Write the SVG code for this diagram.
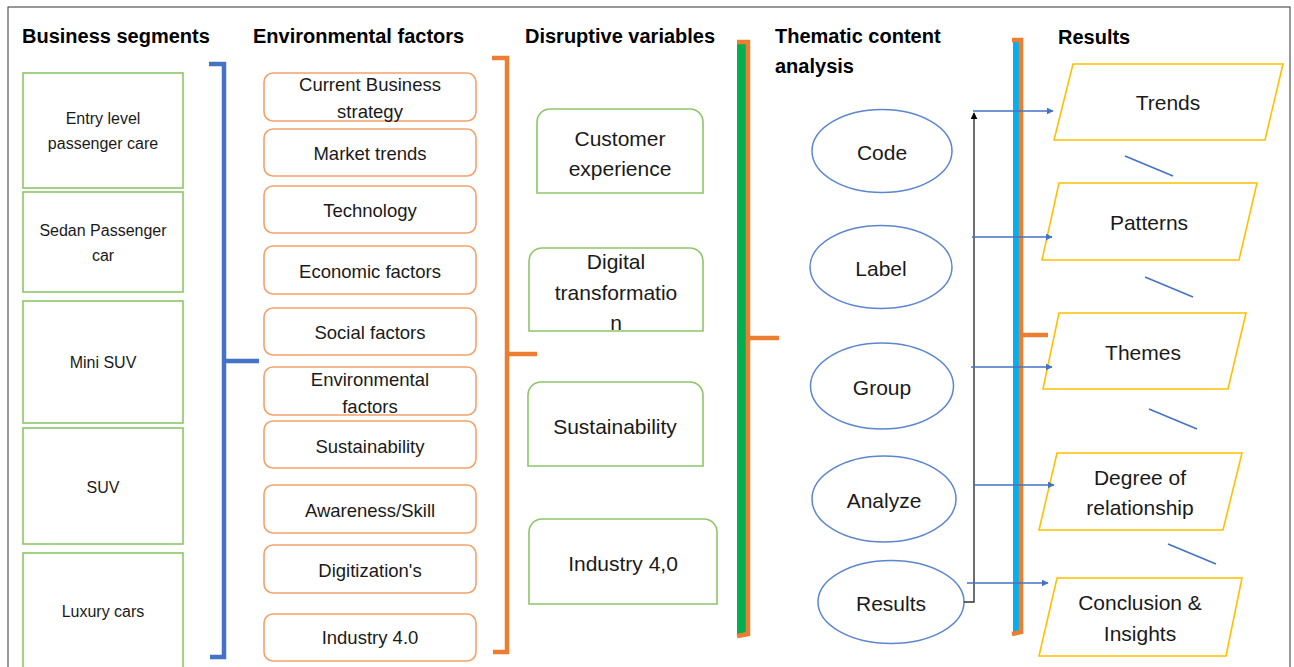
<svg xmlns="http://www.w3.org/2000/svg" width="1294" height="667" viewBox="0 0 1294 667">
<defs>
<style>
text{font-family:"Liberation Sans",Arial,sans-serif;fill:#1a1a1a;text-anchor:middle;dominant-baseline:central}
.hd{font-weight:bold;font-size:20px;text-anchor:start;fill:#000}
.seg rect{fill:#fff;stroke:#8cc668;stroke-width:1.6}
.seg text{font-size:16px}
.env rect{fill:#fff;stroke:#f4a26a;stroke-width:1.6}
.env text{font-size:18.5px}
.dis path{fill:#fff;stroke:#8cc668;stroke-width:1.6}
.dis text{font-size:21px}
.tca ellipse{fill:#fff;stroke:#5b86d0;stroke-width:1.5}
.tca text{font-size:21px}
.res polygon{fill:#fff;stroke:#ffc000;stroke-width:1.6}
.res text{font-size:21px}
.brb{fill:none;stroke:#4472c4;stroke-width:4.5}
.bro{fill:none;stroke:#ed7d31;stroke-width:4.5}
.ba{stroke:#4472c4;stroke-width:1.4;fill:none;marker-end:url(#ab)}
.dl{stroke:#4472c4;stroke-width:1.6}
</style>
<marker id="ab" viewBox="0 0 10 10" refX="9" refY="5" markerWidth="7" markerHeight="7" markerUnits="userSpaceOnUse" orient="auto"><path d="M0,0 L10,5 L0,10 z" fill="#4472c4"/></marker>
<marker id="ak" viewBox="0 0 10 10" refX="9" refY="5" markerWidth="7" markerHeight="7" markerUnits="userSpaceOnUse" orient="auto"><path d="M0,0 L10,5 L0,10 z" fill="#000"/></marker>
</defs>
<rect x="0" y="0" width="1294" height="667" fill="#fff"/>
<rect x="8" y="7" width="1282" height="700" fill="none" stroke="#333" stroke-width="1"/>

<g id="headers">
<text class="hd" x="22" y="36">Business segments</text>
<text class="hd" x="253" y="36">Environmental factors</text>
<text class="hd" x="525" y="36">Disruptive variables</text>
<text class="hd" x="775" y="36">Thematic content</text>
<text class="hd" x="775" y="66">analysis</text>
<text class="hd" x="1058" y="37">Results</text>
</g>

<g id="business-segments" class="seg">
<g id="seg-entry"><rect x="23" y="73" width="160" height="115"/><text x="103" y="118">Entry level</text><text x="103" y="143">passenger care</text></g>
<g id="seg-sedan"><rect x="23" y="192" width="160" height="100"/><text x="103" y="230">Sedan Passenger</text><text x="103" y="255">car</text></g>
<g id="seg-mini"><rect x="23" y="301" width="160" height="122"/><text x="103" y="362">Mini SUV</text></g>
<g id="seg-suv"><rect x="23" y="428" width="160" height="116"/><text x="103" y="487">SUV</text></g>
<g id="seg-luxury"><rect x="23" y="553" width="160" height="120"/><text x="103" y="611">Luxury cars</text></g>
</g>

<g id="environmental-factors" class="env">
<g id="env-strategy"><rect x="264" y="73" width="212" height="48" rx="9"/><text x="370" y="84">Current Business</text><text x="370" y="111">strategy</text></g>
<g id="env-market"><rect x="264" y="129" width="212" height="47" rx="9"/><text x="370" y="153">Market trends</text></g>
<g id="env-tech"><rect x="264" y="186" width="212" height="47" rx="9"/><text x="370" y="210">Technology</text></g>
<g id="env-economic"><rect x="264" y="246" width="212" height="48" rx="9"/><text x="370" y="271">Economic factors</text></g>
<g id="env-social"><rect x="264" y="308" width="212" height="47" rx="9"/><text x="370" y="332">Social factors</text></g>
<g id="env-environmental"><rect x="264" y="367" width="212" height="48" rx="9"/><text x="370" y="379">Environmental</text><text x="370" y="406">factors</text></g>
<g id="env-sustainability"><rect x="264" y="421" width="212" height="47" rx="9"/><text x="370" y="446">Sustainability</text></g>
<g id="env-awareness"><rect x="264" y="485" width="212" height="48" rx="9"/><text x="370" y="510">Awareness/Skill</text></g>
<g id="env-digitization"><rect x="264" y="545" width="212" height="48" rx="9"/><text x="370" y="570">Digitization's</text></g>
<g id="env-industry"><rect x="264" y="614" width="212" height="47" rx="9"/><text x="370" y="637">Industry 4.0</text></g>
</g>

<g id="disruptive-variables" class="dis">
<g id="dis-customer"><path d="M537,193 V122 A13,13 0 0 1 550,109 H690 A13,13 0 0 1 703,122 V193 Z"/><text x="620" y="138">Customer</text><text x="620" y="168">experience</text></g>
<g id="dis-digital"><path d="M529,331 V261 A13,13 0 0 1 542,248 H690 A13,13 0 0 1 703,261 V331 Z"/><text x="616" y="261">Digital</text><text x="616" y="292">transformatio</text><text x="616" y="322">n</text></g>
<g id="dis-sustainability"><path d="M528,466 V395 A13,13 0 0 1 541,382 H690 A13,13 0 0 1 703,395 V466 Z"/><text x="615" y="426">Sustainability</text></g>
<g id="dis-industry"><path d="M529,604 V532 A13,13 0 0 1 542,519 H704 A13,13 0 0 1 717,532 V604 Z"/><text x="623" y="563">Industry 4,0</text></g>
</g>

<g id="thematic-analysis" class="tca">
<g id="tca-code"><ellipse cx="882" cy="151" rx="70" ry="41.5"/><text x="882" y="152">Code</text></g>
<g id="tca-label"><ellipse cx="881" cy="267" rx="71" ry="41.5"/><text x="881" y="268">Label</text></g>
<g id="tca-group"><ellipse cx="882" cy="386" rx="71.5" ry="43"/><text x="882" y="387">Group</text></g>
<g id="tca-analyze"><ellipse cx="884" cy="499" rx="72" ry="43"/><text x="884" y="500">Analyze</text></g>
<g id="tca-results"><ellipse cx="891" cy="602" rx="73" ry="41.5"/><text x="891" y="603">Results</text></g>
</g>

<g id="results" class="res">
<g id="res-trends"><polygon points="1073,64 1283,64 1265,140 1054,140"/><text x="1168" y="102">Trends</text></g>
<g id="res-patterns"><polygon points="1059,183 1257,183 1239,260 1042,260"/><text x="1149" y="222">Patterns</text></g>
<g id="res-themes"><polygon points="1059,313 1246,313 1228,389 1043,389"/><text x="1143" y="352">Themes</text></g>
<g id="res-degree"><polygon points="1057,453 1242,453 1223,530 1039,530"/><text x="1140" y="477">Degree of</text><text x="1140" y="507">relationship</text></g>
<g id="res-conclusion"><polygon points="1057,578 1242,578 1226,656 1039,656"/><text x="1140" y="602">Conclusion &amp;</text><text x="1140" y="633">Insights</text></g>
</g>

<g id="connectors">
<path class="brb" d="M209,64 H224 V657 H210 M224,361 H259"/>
<path class="bro" d="M492,58 H507 V652 H493 M507,354 H537"/>
<rect x="737" y="42" width="9" height="594" fill="#00b050"/>
<path class="bro" d="M737,42 H748 V634 L737,636 M748,338 H779"/>
<rect x="1013" y="40" width="7" height="594" fill="#00b0f0"/>
<path class="bro" d="M1012,40 H1021 V632 L1012,634 M1021,335 H1048"/>
<path d="M964,602 H974 V113" fill="none" stroke="#333" stroke-width="1.4" marker-end="url(#ak)"/>
<line class="ba" x1="973" y1="111" x2="1053" y2="111"/>
<line class="ba" x1="972" y1="237" x2="1052" y2="237"/>
<line class="ba" x1="971" y1="367" x2="1052" y2="367"/>
<line class="ba" x1="974" y1="485" x2="1054" y2="485"/>
<line class="ba" x1="967" y1="583" x2="1048" y2="583"/>
<line class="dl" x1="1125" y1="156" x2="1173" y2="176"/>
<line class="dl" x1="1145" y1="277" x2="1193" y2="297"/>
<line class="dl" x1="1149" y1="409" x2="1197" y2="429"/>
<line class="dl" x1="1168" y1="544" x2="1216" y2="564"/>
</g>
</svg>
